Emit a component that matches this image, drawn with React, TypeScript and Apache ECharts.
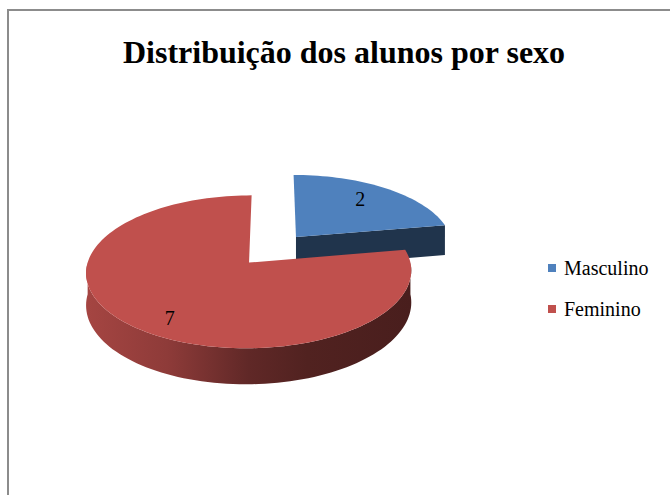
import React, { useEffect, useRef } from "react";
import * as echarts from "echarts";

const categories = ["Masculino", "Feminino"];
const values = [2, 7];
const colors = ["#4f81bd", "#c0504d"];
const titleText = "Distribuição dos alunos por sexo";

// 3D pie projection settings
const CX = 273;
const CY = 249.5;
const R = 158;
const SIN_A = 0.457;
const PERSP = 0.00075;
const DEPTH = 31;
const EXPLODE = 36.5;
const SERIF = "Liberation Serif, Times New Roman, serif";

function shade(hex: string, f: number): string {
  const n = parseInt(hex.slice(1), 16);
  const r = Math.round(((n >> 16) & 255) * f);
  const g = Math.round(((n >> 8) & 255) * f);
  const b = Math.round((n & 255) * f);
  return `rgb(${r},${g},${b})`;
}

function proj(X: number, Z: number, h: number): number[] {
  const s = 1 / (1 + PERSP * Z);
  return [CX + X * s, CY + (-Z * SIN_A + h) * s];
}

const rad = (d: number) => (d * Math.PI) / 180;

function renderItem(params: any, api: any) {
  const idx = params.dataIndex;
  const total = values.reduce((a, b) => a + b, 0);
  let start = 0;
  for (let i = 0; i < idx; i++) start += values[i];
  const v = api.value(0);
  const t1 = (start / total) * 360;
  const t2 = ((start + v) / total) * 360;
  const mid = (t1 + t2) / 2;
  const ox = EXPLODE * Math.sin(rad(mid));
  const oz = EXPLODE * Math.cos(rad(mid));
  const color = colors[idx];
  const pt = (t: number, r: number, h: number) =>
    proj(ox + r * Math.sin(rad(t)), oz + r * Math.cos(rad(t)), h);
  const arc = (a: number, b: number, h: number) => {
    const pts: number[][] = [];
    const n = Math.max(2, Math.ceil((b - a) / 2));
    for (let i = 0; i <= n; i++) pts.push(pt(a + ((b - a) * i) / n, R, h));
    return pts;
  };
  const children: any[] = [];
  const dark = shade(color, 0.4);
  if (Math.sin(rad(t2)) > 0.001) {
    children.push({
      type: "polygon",
      shape: { points: [pt(0, 0, 0), pt(t2, R, 0), pt(t2, R, DEPTH), pt(0, 0, DEPTH)] },
      style: { fill: dark },
    });
  }
  if (Math.sin(rad(t1)) < -0.001) {
    children.push({
      type: "polygon",
      shape: { points: [pt(0, 0, 0), pt(t1, R, 0), pt(t1, R, DEPTH), pt(0, 0, DEPTH)] },
      style: { fill: dark },
    });
  }
  const wa = Math.max(t1, 90);
  const wb = Math.min(t2, 270);
  if (wb > wa) {
    const top = arc(wa, wb, 0);
    const bot = arc(wa, wb, DEPTH).reverse();
    children.push({
      type: "polygon",
      shape: { points: top.concat(bot) },
      style: {
        fill: new echarts.graphic.LinearGradient(0, 0, 1, 0, [
          { offset: 0, color: shade(color, 0.86) },
          { offset: 0.25, color: shade(color, 0.74) },
          { offset: 0.5, color: shade(color, 0.5) },
          { offset: 0.68, color: shade(color, 0.42) },
          { offset: 1, color: shade(color, 0.38) },
        ]),
      },
    });
  }
  children.push({
    type: "polygon",
    shape: { points: [pt(0, 0, 0)].concat(arc(t1, t2, 0)) },
    style: { fill: color },
  });
  const lp = pt(mid, R * 0.7, 0);
  children.push({
    type: "text",
    style: {
      text: String(v),
      x: lp[0],
      y: lp[1] + (Math.cos(rad(mid)) < 0 ? 12 : -3),
      align: "center",
      verticalAlign: "middle",
      fontFamily: SERIF,
      fontSize: 20,
      fill: "#000",
    },
  });
  return { type: "group", children };
}

export default function App() {
  const ref = useRef<HTMLDivElement>(null);
  useEffect(() => {
    if (!ref.current) return;
    const chart = echarts.init(ref.current, undefined, { renderer: "svg" });
    chart.setOption({
      animation: false,
      backgroundColor: "#ffffff",
      color: colors,
      graphic: [
        {
          type: "rect",
          shape: { x: 8, y: 10, width: 700, height: 520 },
          style: { fill: "none", stroke: "#8c8c8c", lineWidth: 2 },
          silent: true,
        },
        {
          type: "text",
          style: {
            text: titleText,
            x: 344,
            y: 52,
            align: "center",
            verticalAlign: "middle",
            fontFamily: SERIF,
            fontWeight: "bold",
            fontSize: 32,
            fill: "#000",
          },
        },
      ],
      legend: {
        orient: "vertical",
        left: 548,
        top: 258,
        icon: "rect",
        itemWidth: 8,
        itemHeight: 8,
        itemGap: 21,
        padding: 0,
        data: categories,
        textStyle: {
          fontFamily: SERIF,
          fontSize: 20,
          color: "#000",
          lineHeight: 19,
          padding: [0, 0, 0, 3],
        },
        selectedMode: false,
      },
      series: [
        {
          type: "custom",
          name: "pie3d",
          coordinateSystem: "none",
          renderItem,
          data: values.map((v) => [v]),
          silent: true,
        },
        {
          type: "pie",
          name: "legendHelper",
          radius: [0, 0],
          center: [-50, -50],
          silent: true,
          label: { show: false },
          labelLine: { show: false },
          data: categories.map((c, i) => ({ name: c, value: values[i] })),
        },
      ],
    });
    return () => chart.dispose();
  }, []);
  return (
    <div
      ref={ref}
      style={{ position: "fixed", left: 0, top: 0, width: 670, height: 495 }}
    />
  );
}
